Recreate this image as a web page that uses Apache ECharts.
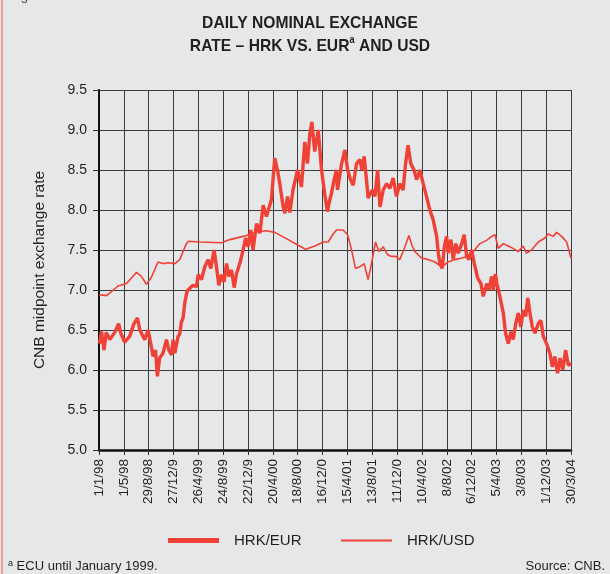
<!DOCTYPE html>
<html>
<head>
<meta charset="utf-8">
<title>Daily nominal exchange rate</title>
<script src="https://cdn.jsdelivr.net/npm/echarts@6.0.0/dist/echarts.min.js"></script>
<style>
  html, body { margin:0; padding:0; background:#e6e7e8; }
  #myChart { width:610px; height:574px; }
</style>
</head>
<body>
<div id="myChart"></div>
<script>
// x values are days counted from 1/1/98
var xTickLabels = ['1/1/98','1/5/98','29/8/98','27/12/9','26/4/99','24/8/99','22/12/9','20/4/00','18/8/00','16/12/0',
                   '15/4/01','13/8/01','11/12/0','10/4/02','8/8/02','6/12/02','5/4/03','3/8/03','1/12/03','30/3/04'];

// thick line (legend: HRK/EUR)
var eurDays = [2,12,24,35,52,76,95,105,124,148,169,186,197,221,237,250,261,273,282,293,309,326,337,350,358,366,382,390,398,406,
               414,423,430,438,454,471,479,495,511,527,540,556,567,579,592,604,616,627,640,653,664,680,696,708,720,733,744,761,777,793,
               809,833,849,857,865,873,889,898,911,922,937,946,959,978,994,1007,1018,1028,1042,1059,1075,1091,1103,1115,1123,1136,1147,1152,1172,1188,
               1201,1215,1228,1244,1260,1270,1281,1292,1300,1308,1320,1333,1346,1357,1373,1389,1405,1421,1437,1453,1469,1481,1493,1506,1522,1534,1550,1566,1582,1598,
               1614,1631,1639,1647,1658,1668,1679,1687,1700,1711,1723,1735,1752,1764,1776,1787,1800,1813,1829,1845,1856,1873,1884,1897,1905,1915,1922,1933,1953,1964,
               1977,1990,2001,2013,2025,2038,2049,2061,2071,2082,2093,2106,2122,2135,2146,2162,2178,2190,2202,2215,2227,2240,2254,2267,2280];
var eurRates = [6.33,6.48,6.25,6.47,6.38,6.47,6.58,6.46,6.35,6.42,6.58,6.65,6.5,6.38,6.5,6.33,6.17,6.25,5.92,6.15,6.21,6.38,6.25,6.19,6.38,6.21,6.42,6.45,6.6,6.65,
                6.83,6.96,7.0,7.0,7.06,7.04,7.19,7.13,7.29,7.38,7.27,7.5,7.3,7.06,7.19,7.1,7.33,7.17,7.25,7.03,7.2,7.33,7.5,7.65,7.54,7.75,7.5,7.83,7.71,8.06,
                7.92,8.13,8.65,8.67,8.46,8.33,8.05,7.96,8.17,7.97,8.25,8.25,8.5,8.29,8.85,8.58,8.94,9.1,8.73,9.0,8.5,8.19,7.98,8.13,8.21,8.38,8.5,8.25,8.58,8.75,
                8.5,8.38,8.31,8.58,8.63,8.5,8.67,8.38,8.15,8.17,8.25,8.17,8.5,8.04,8.25,8.33,8.27,8.4,8.17,8.33,8.25,8.58,8.81,8.58,8.5,8.38,8.5,8.33,8.17,8.0,
                7.88,7.67,7.46,7.33,7.27,7.54,7.67,7.46,7.63,7.38,7.58,7.46,7.58,7.69,7.42,7.38,7.5,7.33,7.15,7.08,6.92,7.08,7.0,7.17,7.0,7.2,7.08,6.96,6.71,6.46,
                6.33,6.48,6.38,6.58,6.71,6.54,6.75,6.67,6.9,6.71,6.54,6.46,6.58,6.62,6.42,6.33,6.21,6.04,6.17,5.96,6.15,6.0,6.25,6.06,6.08];

// thin line (legend: HRK/USD)
var usdDays = [0,36,60,92,132,157,181,205,229,253,285,309,334,366,390,422,433,487,592,632,696,737,761,809,849,914,962,998,1043,1083,
               1107,1131,1147,1179,1201,1220,1239,1260,1281,1300,1313,1336,1352,1373,1394,1413,1434,1453,1478,1497,1513,1526,1558,1590,1623,1655,1686,1720,1753,1777,
               1808,1840,1872,1897,1913,1929,1953,1977,2000,2025,2049,2065,2089,2122,2154,2170,2194,2211,2235,2259,2280];
var usdRates = [6.94,6.93,6.98,7.05,7.08,7.15,7.22,7.17,7.07,7.16,7.35,7.33,7.34,7.33,7.38,7.58,7.61,7.6,7.59,7.63,7.67,7.7,7.73,7.74,7.72,7.63,7.56,7.51,7.55,7.6,
                7.6,7.7,7.75,7.75,7.69,7.5,7.27,7.29,7.33,7.13,7.29,7.6,7.48,7.54,7.44,7.42,7.42,7.38,7.54,7.68,7.55,7.48,7.4,7.38,7.35,7.29,7.35,7.38,7.4,7.42,
                7.48,7.58,7.62,7.67,7.69,7.52,7.58,7.55,7.52,7.48,7.55,7.46,7.5,7.6,7.65,7.7,7.67,7.72,7.67,7.6,7.4];

var yMin = 5, yMax = 9.5, yStep = 0.5, dayStep = 120;

function pairs(days, vals) {
  var out = [];
  for (var i = 0; i < days.length; i++) out.push([days[i], vals[i]]);
  return out;
}

var font = "'Liberation Sans', Arial, sans-serif";
var red = '#ef4136';
var ink = '#231f20';

option = {
    backgroundColor: '#e6e7e8',
    textStyle: { fontFamily: font },
    animation: false,
    legend: [
        {
            left: 168, top: 533, padding: 0,
            icon: 'rect', itemWidth: 51, itemHeight: 5,
            textStyle: { fontSize: 15, color: ink, padding: [0, 0, 0, 10] },
            data: ['HRK/EUR']
        },
        {
            left: 341, top: 533, padding: 0,
            icon: 'rect', itemWidth: 51, itemHeight: 2,
            textStyle: { fontSize: 15, color: ink, padding: [0, 0, 0, 10] },
            data: ['HRK/USD']
        }
    ],
    grid: { left: 99, top: 90, right: 39, bottom: 124 },
    xAxis : {
        type : 'value',
        min: 0,
        max: dayStep * (xTickLabels.length - 1),
        interval: dayStep,
        axisLine: { lineStyle: { color: '#111', width: 2.5 } },
        axisTick: { show: true, length: 5, lineStyle: { color: '#333' } },
        splitLine: { show: true, lineStyle: { color: '#3c3c3c', width: 1 } },
        axisLabel: {
            rotate: 90, margin: 9, fontSize: 13.5, color: ink,
            formatter: function (v) { return xTickLabels[Math.round(v / dayStep)]; }
        }
    },
    yAxis : {
        type : 'value',
        min: yMin, max: yMax, interval: yStep,
        name: 'CNB midpoint exchange rate',
        nameLocation: 'middle',
        nameGap: 51,
        nameTextStyle: { fontSize: 15.5, color: ink },
        axisLine: { show: true, lineStyle: { color: '#111', width: 2 } },
        axisTick: { show: true, length: 6, lineStyle: { color: '#333' } },
        splitLine: { show: true, lineStyle: { color: '#3c3c3c', width: 1 } },
        axisLabel: {
            margin: 12, fontSize: 14, color: ink,
            formatter: function (v) { return v.toFixed(1); }
        }
    },
    series : [
        {
            name: 'HRK/EUR',
            type: 'line',
            showSymbol: false,
            symbol: 'none',
            lineStyle: { color: red, width: 3.4 },
            itemStyle: { color: red },
            data: pairs(eurDays, eurRates)
        },
        {
            name: 'HRK/USD',
            type: 'line',
            showSymbol: false,
            symbol: 'none',
            lineStyle: { color: red, width: 1.6 },
            itemStyle: { color: red },
            data: pairs(usdDays, usdRates)
        }
    ],
    graphic: [
        { type: 'rect', left: 1, top: 0, shape: { width: 2, height: 574 }, style: { fill: '#f19a98' } },
        { type: 'text', x: 10, y: -10, style: { text: 'Figure 12', fontSize: 13, fill: '#444', fontFamily: font } },
        { type: 'text', x: 310, y: 12, scaleX: 0.92,
          style: { text: 'DAILY NOMINAL EXCHANGE\nRATE \u2013 HRK VS. EUR{sup|a} AND USD', textAlign: 'center',
                   fontFamily: font, fontSize: 17, fontWeight: 'bold', fill: ink, lineHeight: 23,
                   rich: { sup: { fontSize: 10, fontWeight: 'bold', fill: ink, verticalAlign: 'top', lineHeight: 23, padding: [0, 0, 8, 0] } } } },
        { type: 'text', x: 8, y: 559, style: { text: '{s|a} ECU until January 1999.', fontSize: 13, fill: ink, fontFamily: font,
            rich: { s: { fontSize: 9, fill: ink, verticalAlign: 'top', padding: [0, 0, 6, 0] } } } },
        { type: 'text', right: 5, top: 560, style: { text: 'Source: CNB.', fontSize: 13, fill: ink, fontFamily: font } }
    ]
};
var myChart = echarts.init(document.getElementById('myChart'));
myChart.setOption(option);
</script>
</body>
</html>
